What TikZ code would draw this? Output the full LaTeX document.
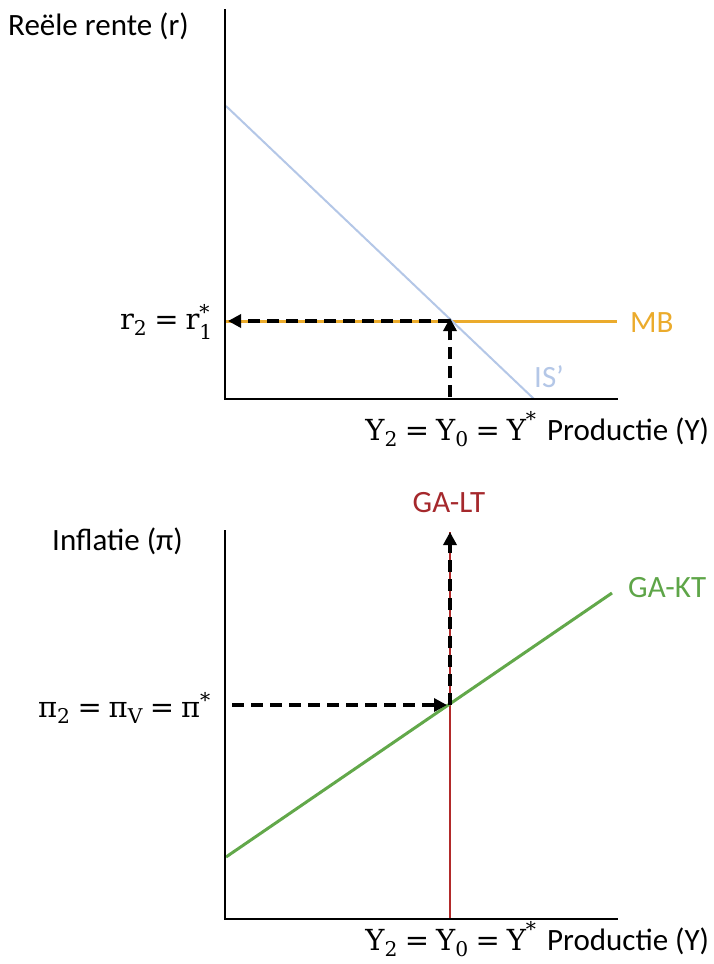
\documentclass[tikz,border=0pt]{standalone}
\usepackage{amsmath}
\usepackage[no-math]{fontspec}
\setmainfont{Carlito}
\newfontfamily\grk{DejaVu Serif}
\newcommand{\dv}[1]{\text{\grk #1}}
\newcommand{\deq}{\mathrel{\dv{=}}}
\usetikzlibrary{arrows.meta}
\definecolor{mbc}{HTML}{EBAB2C}
\definecolor{isc}{HTML}{B4C7E7}
\definecolor{ktc}{HTML}{62A84A}
\definecolor{ktt}{HTML}{5EA548}
\definecolor{ltc}{HTML}{B22A2A}
\definecolor{ltt}{HTML}{A5282C}
\tikzset{
  axis/.style={line width=2.6pt, black},
  guide/.style={line width=4pt, black, dash pattern=on 12pt off 7pt, -{Triangle[length=13pt,width=13pt]}},
  lbl/.style={inner sep=0pt, font=\fontsize{31}{37}\selectfont},
  mlbl/.style={inner sep=0pt, font=\fontsize{29}{35}\selectfont},
}
\begin{document}
\begin{tikzpicture}[x=1pt,y=-1pt]
\useasboundingbox (0,0) rectangle (713,964);
% ---------- top panel ----------
\coordinate (tyT) at (225,9);
\coordinate (tO) at (225,399);
\coordinate (txR) at (618,399);
\coordinate (isA) at (226,106);
\coordinate (isB) at (534,399);
\coordinate (mbA) at (226,321);
\coordinate (mbB) at (617,321);
\coordinate (tE) at (450,321);
\coordinate (tEb) at (450,397);
\coordinate (tEl) at (228,321);
\draw[line width=3pt, mbc] (mbA) -- (mbB);
\draw[line width=2pt, isc] (isA) -- (isB);
\draw[guide] (tE) -- (tEl);
\draw[guide] (tEb) -- ([yshift=3pt]tE);
\draw[axis] (tyT) -- (tO) -- (txR);
\node[lbl, anchor=base west] (ylab1) at (8,35) {Reële rente (r)};
\node[lbl, anchor=base west, text=mbc] (mb) at (630,332) {MB};
\node[lbl, anchor=base west, text=isc] (is) at (534,387) {IS’};
\node[mlbl, anchor=base east] (rlab) at (213,329) {$\dv{r}_{\dv{2}}\deq\dv{r}_{\dv{1}}^{\dv{*}}$};
\node[mlbl, anchor=base] (ytop) at (451,440) {$\dv{Y}_{\dv{2}}\deq\dv{Y}_{\dv{0}}\deq\dv{Y}^{\dv{*}}$};
\node[lbl, anchor=base west] (xlab1) at (547,440) {Productie (Y)};
% ---------- bottom panel ----------
\coordinate (byT) at (225,530);
\coordinate (bO) at (225,919);
\coordinate (bxR) at (618,919);
\coordinate (ltA) at (450,919);
\coordinate (ltB) at (450,532);
\coordinate (ktA) at (226,857);
\coordinate (ktB) at (612,593);
\coordinate (bE) at (450,705);
\coordinate (bEl) at (232,705);
\draw[line width=2.2pt, ltc] (ltA) -- (ltB);
\draw[line width=3pt, ktc] (ktA) -- (ktB);
\draw[guide] (bEl) -- ([xshift=-3pt]bE);
\draw[guide] (bE) -- (ltB);
\draw[axis] (byT) -- (bO) -- (bxR);
\node[lbl, anchor=base west] (ylab2) at (52,550) {Inflatie (π)};
\node[lbl, anchor=base, text=ltt] (lt) at (449,512) {GA-LT};
\node[lbl, anchor=base west, text=ktt] (kt) at (628,597) {GA-KT};
\node[mlbl, anchor=base east] (pilab) at (211,717) {$\dv{π}_{\dv{2}}\deq\dv{π}_{\dv{V}}\deq\dv{π}^{\dv{*}}$};
\node[mlbl, anchor=base] (ybot) at (451,950) {$\dv{Y}_{\dv{2}}\deq\dv{Y}_{\dv{0}}\deq\dv{Y}^{\dv{*}}$};
\node[lbl, anchor=base west] (xlab2) at (547,950) {Productie (Y)};
\end{tikzpicture}
\end{document}
